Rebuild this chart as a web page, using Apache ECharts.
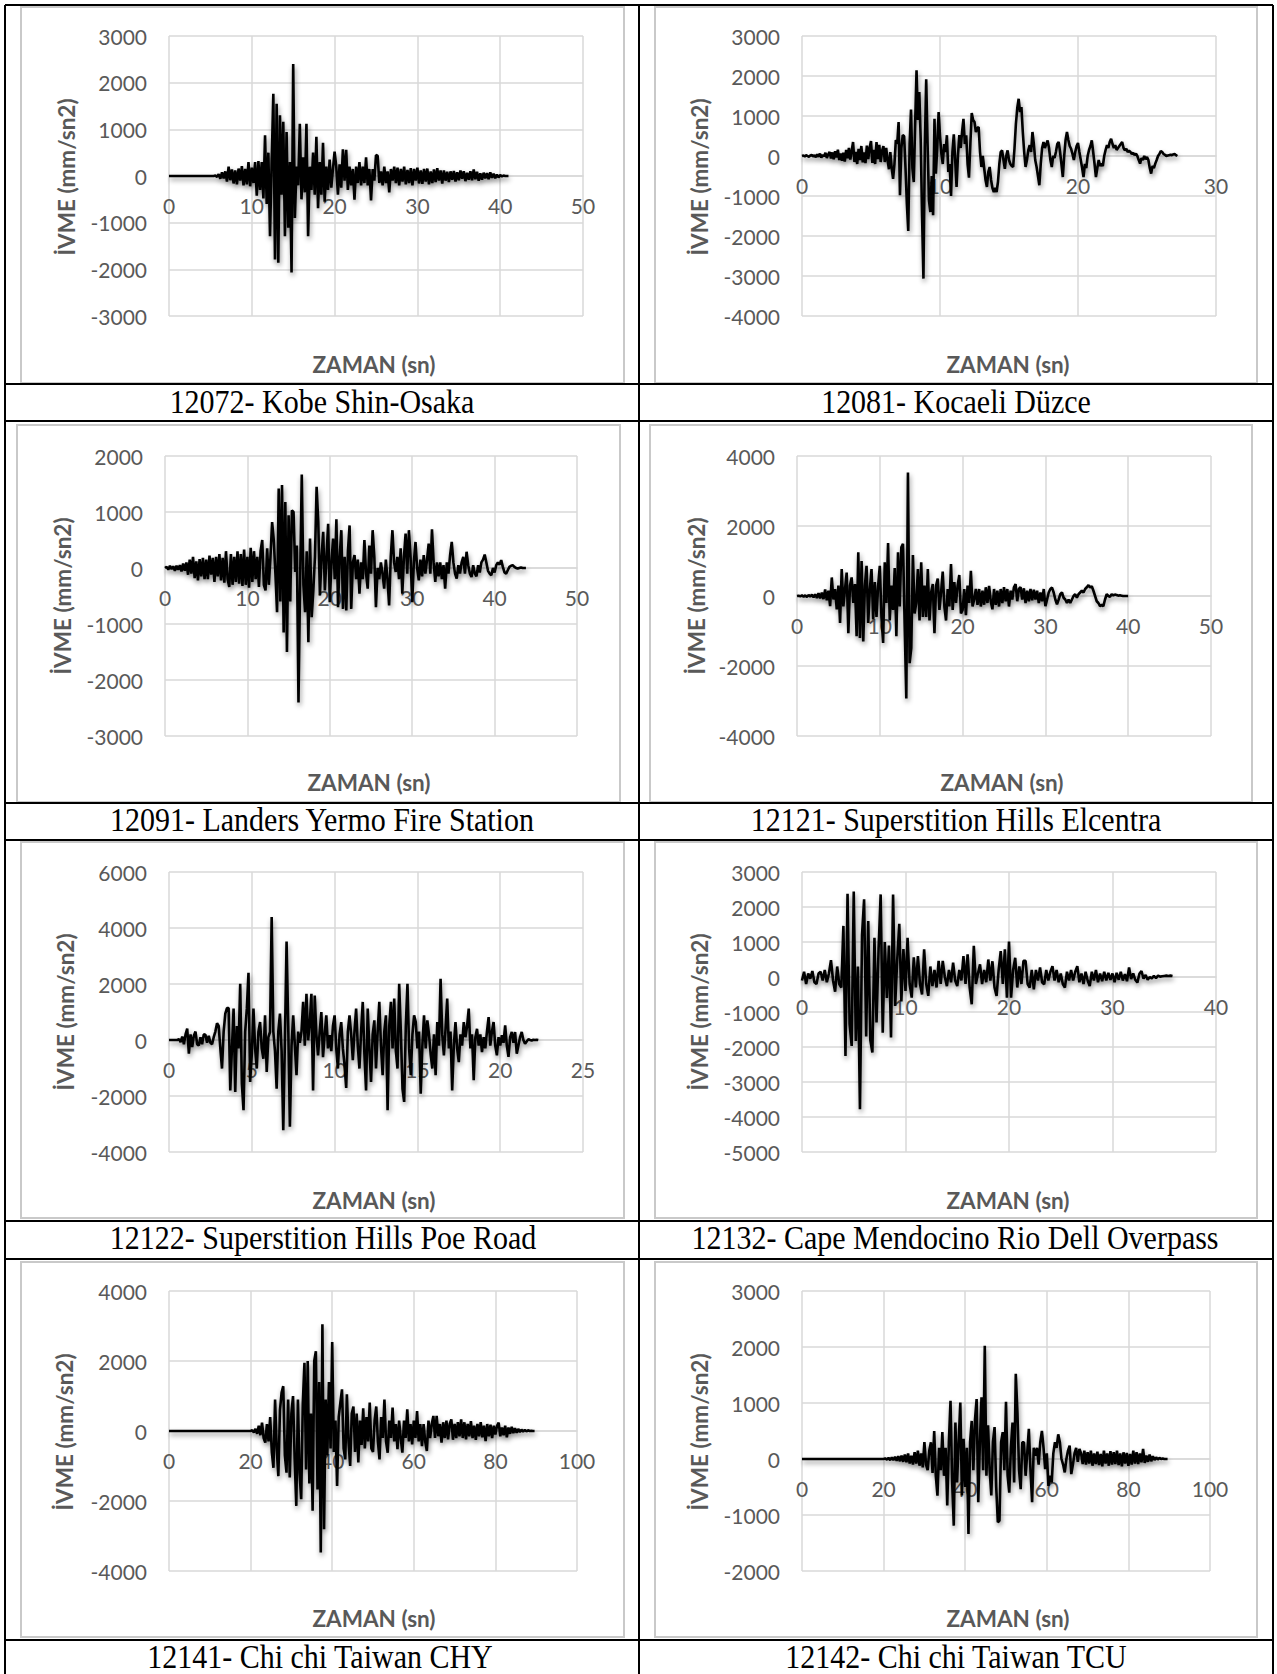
<!DOCTYPE html>
<html><head><meta charset="utf-8">
<script src="https://cdn.jsdelivr.net/npm/echarts@6/dist/echarts.min.js"></script>
<style>html,body{margin:0;padding:0;background:#fff;}#c{width:1277px;height:1674px;}</style>
</head><body><div id="c"></div>
<script>
// ---------------- DATA ----------------
const captions = [
  "12072- Kobe Shin-Osaka",
  "12081- Kocaeli Düzce",
  "12091- Landers Yermo Fire Station",
  "12121- Superstition Hills Elcentra",
  "12122- Superstition Hills Poe Road",
  "12132- Cape Mendocino Rio Dell Overpass",
  "12141- Chi chi Taiwan CHY",
  "12142- Chi chi Taiwan TCU"
];
const xTitle = "ZAMAN (sn)";
const yTitle = "İVME (mm/sn2)";

const xMax  = [50, 30, 50, 50, 25, 40, 100, 100];
const xStep = [10, 10, 10, 10, 5, 10, 20, 20];
const yMin  = [-3000, -4000, -3000, -4000, -4000, -5000, -4000, -2000];
const yMax  = [3000, 3000, 2000, 4000, 6000, 3000, 4000, 3000];
const yStep = [1000, 1000, 1000, 2000, 2000, 1000, 2000, 1000];

// sample spacing (s) of each record
const sampleDt = [0.2, 0.1, 0.2, 0.2, 0.1, 0.2, 0.4, 0.4];

const kobeAcc = [
0,0,0,0,0, 0,0,0,0,0, 0,0,0,0,0, 0,0,0,0,0, 0,0,0,0,0,
0,0,0,10,-20,
40,-60,80,-50,100,
-120,200,-90,140,-160,
120,-180,160,-100,210,
-200,150,-180,300,-220,
180,-150,300,-420,320,
-300,300,-480,870,-600,
500,-1290,300,1760,-1790,
1550,-1860,1300,-400,1160,
-1290,940,-1110,300,-2070,
2400,-900,200,-200,1120,
-500,400,-350,1120,-1290,
200,-300,500,-400,840,
-690,300,-400,710,-550,
200,-300,350,-250,150,
520,200,-400,250,-250,
570,-100,560,-300,200,
-200,150,-510,200,-150,
300,-200,200,-150,400,
-200,150,-525,150,-100,
450,430,-150,100,-200,
200,-150,100,-350,150,
-100,200,-150,180,-200,
150,-120,200,-180,130,
-150,170,-200,150,-100,
180,-160,120,-170,150,
-120,160,-180,100,-150,
140,-130,170,-100,120,
-160,120,-100,90,-130,
100,-80,110,-120,80,
-90,120,-60,100,-110,
70,-80,100,-90,140,
-70,90,-100,60,-80,
70,-50,60,-70,80,
-40,50,-50,30,-30,
20,-10,10,0,0,
0
];

const kocaeliAcc = [
0,10,-10,20,0,-20,10,30,-10,20,
-30,40,-20,60,-40,30,-10,80,-50,40,
100,-60,90,-80,120,-40,160,-100,60,-120,
80,-140,150,-60,200,-90,120,350,-150,100,
-200,180,-100,250,-160,90,-180,260,-80,200,
375,-170,150,-200,350,-80,280,-150,120,250,
-150,200,-100,-330,100,-300,-570,-200,400,300,
850,-980,200,520,500,-300,-1200,-1875,300,1160,
-300,-650,800,2140,900,1600,430,-1500,-3065,200,
1920,300,-1110,-1400,-500,-1480,930,-440,200,1100,
500,60,-200,300,100,520,-400,-200,-1000,100,
540,-100,-775,0,520,200,600,930,300,520,
-200,-540,300,1075,900,850,600,700,725,100,
-275,0,-300,-600,-775,-400,-275,-600,-800,-900,
-800,-900,-650,-200,100,140,-100,-320,0,140,
-100,-200,-250,-275,200,800,1200,1430,1100,1225,
600,100,-275,-100,150,270,100,600,300,-100,
-275,-500,-730,-200,200,350,200,300,390,200,
-100,-275,0,-50,100,300,350,100,-200,-525,
0,400,600,400,250,180,50,-100,100,250,
325,100,-100,-300,-525,-200,-300,0,150,250,
390,100,-200,-525,-300,-100,-250,-190,-250,0,
150,270,200,350,430,300,200,270,150,200,
250,300,350,200,140,180,100,130,100,50,
80,20,60,0,-100,-190,-50,-100,0,-80,
-25,-100,-300,-440,-250,-300,-190,-100,0,50,
125,100,50,30,0,10,20,30,20,40,
50,20,0
];

const landersAcc = [
0,20,-30,40,-20,
30,-50,40,-30,50,
-60,80,-50,100,-120,
150,-100,200,-180,120,
-220,160,-150,180,-200,
150,-200,220,-120,180,
-250,200,-150,250,-220,
180,-260,300,-200,-340,
250,-300,200,-250,300,
-280,250,-320,330,-300,
200,-350,360,-250,300,
-200,200,-340,300,500,
-300,-400,350,-300,200,
820,500,-100,-790,1420,
-600,1480,-1150,1180,-1500,
940,-600,1030,1000,-70,
400,-2400,-200,1670,-300,
-790,300,-1325,525,-880,
-400,200,1450,820,-490,
200,645,-400,200,790,
-610,100,525,-200,870,
-700,200,675,-730,200,
-760,300,760,-730,100,
230,-200,150,-460,100,
-200,500,-100,-370,400,
-100,675,200,-700,0,
-200,100,-100,-370,150,
-200,-670,200,675,100,
-70,200,-200,350,-460,
200,615,-100,675,200,
-610,100,465,0,-220,
150,-150,230,-100,150,
435,-100,690,100,-250,
100,-150,100,-200,50,
-370,100,-100,230,465,
100,-100,-190,50,-100,
100,200,-100,290,50,
-100,-160,50,-100,-150,
50,-80,100,150,240,
100,-50,-100,-130,0,
-80,50,100,60,140,
20,-80,-100,-40,20,
40,50,20,0,-10,
0,10,0,0,0
];

const elcentraAcc = [
0,10,-10,20,-20,
20,-30,30,-20,40,
-40,50,-60,80,-70,
100,-90,190,-120,150,
-290,530,-100,200,-380,
300,-770,770,-300,200,
670,-1060,300,530,-200,
340,-1150,1250,-1200,1000,
-1300,300,860,-770,200,
770,-670,400,-600,300,
860,-600,-1340,960,-200,
1510,-700,300,-400,800,
-1150,1250,-300,1390,1490,
-800,-2930,3530,-1920,-1490,
1170,-500,-200,770,-700,
960,-600,300,-600,770,
-700,100,340,-1060,300,
500,-400,100,700,-300,
-700,200,-300,910,-400,
400,-200,300,600,-500,
-400,200,-550,300,-200,
720,-300,-100,200,-250,
200,-300,150,-250,250,
-200,290,-150,-380,200,
-250,150,-300,200,-200,
250,-150,200,-300,150,
-100,250,340,-150,200,
250,-100,220,-200,150,
-150,200,-120,180,-100,
150,-200,100,-150,200,
-290,-100,100,200,240,
100,-100,-240,-100,50,
100,-50,-100,-200,-100,
-200,-100,0,50,-50,
50,100,150,100,200,
250,310,240,280,150,
0,-150,-200,-290,-250,
-290,-100,50,0,-20,
50,20,40,30,10,
20,10,0,0,0,
0
];

const poeRoadAcc = [
0,0,0,0,0,0,30,-80,120,-150,
200,405,-490,200,-250,150,300,-150,-200,100,
-150,200,190,-100,150,-100,-150,100,300,600,
500,-300,-1020,300,940,1140,1140,-1800,-300,1120,
-1860,500,-300,2010,-1560,-2510,300,1120,2400,-1500,
-500,1120,-300,-1020,300,640,-300,-670,880,-1140,
100,285,4390,300,-400,-1740,300,940,-400,-3225,
0,3520,500,-3100,-200,880,-200,-1260,300,-100,
300,1360,-200,1650,-10,600,1650,-1800,1590,200,
-550,300,1000,-610,200,880,-300,170,-400,500,
880,-300,-1020,200,640,-300,-900,-1710,300,880,
200,-720,300,1120,-200,-1020,300,1360,-500,-1800,
1120,-300,-1500,200,700,-1020,300,1360,-200,-1260,
300,880,-2510,500,1360,-300,1480,-400,-1020,2010,
300,-1740,-2210,500,2010,-300,-1260,200,880,640,
-300,300,-1920,-200,880,-300,700,200,-500,-1020,
200,-1260,640,-200,2190,200,-550,400,1480,-300,
300,-1800,-200,640,-300,-790,200,-200,640,100,
500,1120,-300,200,-1440,100,400,-200,200,-430,
100,-300,300,820,-200,300,640,-200,-550,100,
-200,170,-100,520,-200,-600,100,285,-100,285,
-490,-200,100,285,0,-130,-50,30,0,-20,
10,0,10,0
];

const mendocinoAcc = [
-100,150,-200,100,-50,
170,-150,-200,100,150,
-100,200,-150,100,480,
-100,-420,300,-200,-300,
1460,-2260,2380,-1350,-1970,
2440,-1830,300,-3780,1200,
2220,-1700,1600,-1800,-2160,
1120,-1300,800,2360,-1590,
1000,-600,900,-1730,2360,
-830,500,1520,-700,800,
-400,1120,-200,-590,560,
-300,600,-200,-500,790,
-200,-540,300,-260,200,
-300,460,-200,460,0,
-260,200,-150,410,-100,
-260,200,-100,600,-200,
650,-300,-780,890,-200,
100,360,-200,200,-150,
500,-100,450,-300,-540,
200,740,-200,790,-590,
1010,-590,200,550,-300,
300,-200,460,460,-200,
-300,200,-350,200,-100,
270,-150,-210,200,-100,
150,310,-100,200,-150,
100,-200,-300,150,-100,
200,-100,150,310,-150,
100,-200,150,-100,-260,
150,-100,200,-150,100,
-120,150,-100,120,-80,
100,-150,120,-80,150,
-100,80,-120,270,-60,
100,-80,-160,90,170,
-50,60,-80,0,-40,
30,-30,40,10,20,
30,40,30,40,30
];

const chyAcc = [
0,0,0,0,0, 0,0,0,0,0, 0,0,0,0,0, 0,0,0,0,0, 0,0,0,0,0,
0,0,0,0,0, 0,0,0,0,0, 0,0,0,0,0, 0,0,0,0,0, 0,0,0,0,0,
0,20,-40,60,-80,
150,-120,240,-200,-330,
200,-300,400,-600,-1050,
900,-500,-1290,600,1100,
1280,-700,-1190,900,-1330,
500,1000,-800,-2140,900,
-1200,-1950,800,1950,-1100,
2000,-1500,500,-2280,2000,
2280,-1670,1400,-3470,3050,
-2810,900,-700,1400,-500,
2540,-600,300,-1570,400,
810,1190,-500,-810,1050,
-300,-1000,500,700,-600,
500,-900,300,-400,650,
-500,400,-300,810,-500,
-600,300,700,-300,-810,
400,-200,900,-300,-620,
300,-200,670,-300,200,
-520,300,-200,-620,300,
-200,620,-300,200,-380,
300,-200,570,-300,200,
-430,200,-300,-570,300,
-200,200,430,-200,430,
-150,200,-330,250,-200,
300,-240,200,330,-250,
200,-200,250,-150,330,
-200,250,-240,200,-150,
280,-200,150,-250,200,
-150,250,-180,150,-290,
200,-150,180,-200,150,
-100,150,240,-150,100,
-120,150,-180,100,-80,
120,-60,80,-50,60,
-30,40,-20,30,-10,
20,0,10,0,0
];

const tcuAcc = [
0,0,0,0,0, 0,0,0,0,0, 0,0,0,0,0, 0,0,0,0,0, 0,0,0,0,0,
0,0,0,0,0, 0,0,0,0,0, 0,0,0,0,0, 0,0,0,0,0, 0,0,0,0,0,
0,10,-10,20,-20,
30,-20,40,-30,50,
-40,60,-50,80,-60,
100,-80,60,-100,120,
-80,150,-120,100,-150,
300,-100,-200,150,300,
-250,500,-300,-655,200,
-200,480,-300,200,-830,
300,1040,-400,-1190,650,
-420,300,1010,-650,360,
-500,200,-1340,300,680,
-200,700,1070,-770,300,
1100,-200,2020,-300,600,
-200,-650,300,570,-500,
-1130,-1100,300,480,-200,
1020,-300,-600,200,650,
-420,1520,830,-200,-540,
300,300,-300,100,540,
-200,-770,200,60,200,
-100,300,500,200,-180,
100,-480,-300,-420,100,
300,200,440,300,0,
-100,-240,0,150,240,
-270,-100,100,200,-50,
180,100,-90,150,-100,
120,-80,150,-120,100,
-90,130,-110,90,-130,
150,-80,100,-120,140,
-100,120,-90,150,-110,
100,-130,120,-80,110,
-120,90,-100,150,-80,
120,-90,100,-60,180,
-70,60,-50,80,-40,
50,-20,30,-10,20,
0,10,0,0,0
];

const records = [kobeAcc, kocaeliAcc, landersAcc, elcentraAcc, poeRoadAcc, mendocinoAcc, chyAcc, tcuAcc];

// ---------------- LAYOUT ----------------
const plotBoxes = [
  [169, 36, 414, 280], [802, 36, 414, 280],
  [165, 456, 412, 280], [797, 456, 414, 280],
  [169, 872, 414, 280], [802, 872, 414, 280],
  [169, 1291, 408, 280], [802, 1291, 408, 280]
];
const frames = [
  [21, 7, 603, 376], [655, 7, 602, 376],
  [17, 425, 603, 377], [650, 425, 602, 377],
  [21, 842, 603, 376], [655, 842, 602, 376],
  [21, 1262, 603, 375], [655, 1262, 602, 375]
];
const captionPos = [[322,402],[956,402],[322,820],[956,820],[323,1238],[955,1238],[320,1657],[956,1657]];
const xTitlePos = [[374,364],[1008,364],[369,782],[1002,782],[374,1200],[1008,1200],[374,1618],[1008,1618]];
const yTitlePos = [[66,177],[699,177],[62,596],[696,596],[65,1012],[699,1012],[64,1432],[699,1432]];
const hLines = [5, 384, 421, 803, 840, 1221, 1259, 1640];
const vLines = [5, 639, 1273];

const GRID_C = '#d9d9d9';
const LABEL_C = '#595959';

const grids = [], xAxes = [], yAxes = [], series = [], graphics = [];

for (let i = 0; i < 8; i++) {
  const b = plotBoxes[i];
  grids.push({left: b[0], top: b[1], width: b[2], height: b[3], containLabel: false, outerBoundsMode: 'none'});
  // move the time axis (line + labels) up to the zero acceleration level, as in the source
  const zeroOffset = -b[3] * (0 - yMin[i]) / (yMax[i] - yMin[i]);
  xAxes.push({
    gridIndex: i, type: 'value', min: 0, max: xMax[i], interval: xStep[i],
    position: 'bottom', offset: zeroOffset,
    axisLine: {show: true, onZero: false, lineStyle: {color: GRID_C, width: 1.5}},
    axisTick: {show: false},
    axisLabel: {color: LABEL_C, fontSize: 21, fontFamily: 'Lato', margin: 19, showMinLabel: true, showMaxLabel: true,
      formatter: v => String(v)},
    splitLine: {show: true, lineStyle: {color: GRID_C, width: 1.5}}
  });
  yAxes.push({
    gridIndex: i, type: 'value', min: yMin[i], max: yMax[i], interval: yStep[i],
    axisLine: {show: false, onZero: false}, axisTick: {show: false},
    axisLabel: {color: LABEL_C, fontSize: 21, fontFamily: 'Lato', margin: 22, showMinLabel: true, showMaxLabel: true,
      formatter: v => String(v)},
    splitLine: {show: true, lineStyle: {color: GRID_C, width: 1.5}}
  });
  const dt = sampleDt[i];
  series.push({
    type: 'line', xAxisIndex: i, yAxisIndex: i,
    data: records[i].map((v, k) => [Math.round(k * dt * 100) / 100, v]),
    showSymbol: false, symbol: 'none', silent: true, z: 3,
    lineStyle: {color: '#000', width: 2.6, shadowColor: 'rgba(0,0,0,0.45)', shadowBlur: 5, shadowOffsetX: 1, shadowOffsetY: 3}
  });
  const f = frames[i];
  graphics.push({type: 'rect', z: -10, silent: true,
    shape: {x: f[0], y: f[1], width: f[2], height: f[3]},
    style: {fill: 'transparent', stroke: '#c9c9c9', lineWidth: 2}});
  graphics.push({type: 'text', x: captionPos[i][0], y: captionPos[i][1], scaleY: 1.1, silent: true,
    style: {text: captions[i], fill: '#000', font: '30px "Liberation Serif"', textAlign: 'center', textVerticalAlign: 'middle'}});
  graphics.push({type: 'text', x: xTitlePos[i][0], y: xTitlePos[i][1], silent: true,
    style: {text: xTitle, fill: LABEL_C, font: 'bold 22.5px Lato', textAlign: 'center', textVerticalAlign: 'middle'}});
  graphics.push({type: 'text', x: yTitlePos[i][0], y: yTitlePos[i][1], rotation: Math.PI / 2, silent: true,
    style: {text: yTitle, fill: LABEL_C, font: 'bold 22.5px Lato', textAlign: 'center', textVerticalAlign: 'middle'}});
}
hLines.forEach(y => graphics.push({type: 'line', silent: true, z: 10,
  shape: {x1: 5, y1: y, x2: 1273, y2: y}, style: {stroke: '#000', lineWidth: 2}}));
vLines.forEach(x => graphics.push({type: 'line', silent: true, z: 10,
  shape: {x1: x, y1: 5, x2: x, y2: 1674}, style: {stroke: '#000', lineWidth: 2}}));

const chart = echarts.init(document.getElementById('c'), null, {renderer: 'svg', width: 1277, height: 1674});
chart.setOption({
  animation: false,
  backgroundColor: '#fff',
  textStyle: {fontFamily: 'Lato'},
  grid: grids, xAxis: xAxes, yAxis: yAxes, series: series,
  graphic: {elements: graphics}
});
</script></body></html>
